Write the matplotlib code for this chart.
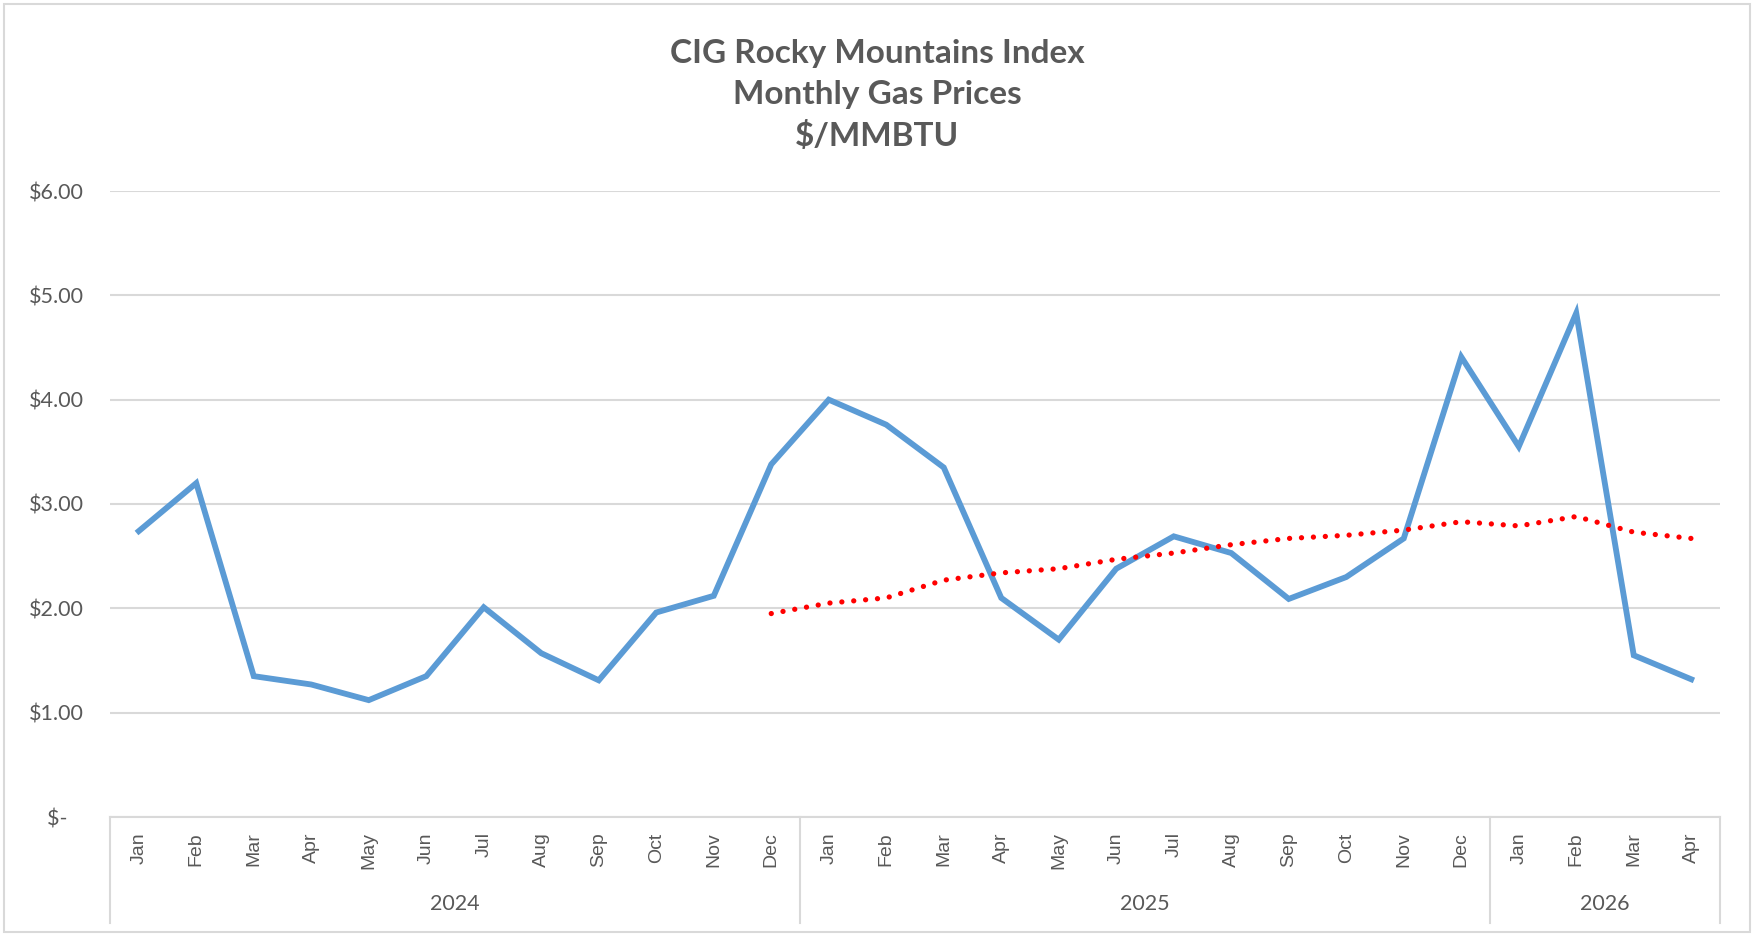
import matplotlib.pyplot as plt
from matplotlib.patches import Rectangle
import matplotlib.transforms as mtransforms
from matplotlib.ticker import FuncFormatter

months = ["Jan", "Feb", "Mar", "Apr", "May", "Jun", "Jul", "Aug", "Sep", "Oct", "Nov", "Dec"] * 2 + ["Jan", "Feb", "Mar", "Apr"]
years = ["2024", "2025", "2026"]
year_counts = [12, 12, 4]

# monthly index price, $/MMBTU
prices = [2.74, 3.20, 1.35, 1.27, 1.12, 1.35, 2.01, 1.57, 1.31, 1.96, 2.12, 3.38,
          4.00, 3.76, 3.35, 2.10, 1.70, 2.38, 2.69, 2.53, 2.09, 2.30, 2.67, 4.41,
          3.55, 4.83, 1.55, 1.32]

# 12 month moving average trendline (starts at Dec 2024)
avg_start = 11
moving_avg = [1.95, 2.05, 2.10, 2.27, 2.34, 2.38, 2.47, 2.53, 2.61, 2.67, 2.70, 2.75,
              2.83, 2.79, 2.88, 2.73, 2.67]

grey = "#595959"
gridc = "#D9D9D9"

fig = plt.figure(figsize=(17.54, 9.36), dpi=100)
ax = fig.add_axes([110/1754, 1 - 817/936, 1610/1754, 626/936])

x = list(range(len(prices)))
ax.plot(x, prices, color="#5B9BD5", lw=4.2, solid_joinstyle="miter", zorder=3)
ax.plot(list(range(avg_start, avg_start + len(moving_avg))), moving_avg, color="#FF0000",
        lw=3.8, linestyle=(0, (0.01, 2.25)), dash_capstyle="round", zorder=4)

ax.set_xlim(-0.5, len(prices) - 0.5)
ax.set_ylim(0, 6)
ax.set_yticks([0, 1, 2, 3, 4, 5, 6])
ax.yaxis.set_major_formatter(FuncFormatter(lambda v, p: "$-   " if v == 0 else f"${v:.2f}"))
ax.grid(axis="y", color=gridc, lw=1.5)
ax.set_axisbelow(True)
for s in ["top", "right", "left"]:
    ax.spines[s].set_visible(False)
ax.spines["bottom"].set_color(gridc)
ax.spines["bottom"].set_linewidth(1.5)
ax.tick_params(axis="y", length=0, pad=19, labelsize=15.5, labelcolor=grey)
for lab in ax.get_yticklabels():
    lab.set_fontfamily("Lato")
ax.set_xticks(x)
ax.set_xticklabels(months, rotation=90, fontsize=14, color=grey, fontfamily="Liberation Sans")
ax.tick_params(axis="x", length=0, pad=11)

# two level category axis
trans = mtransforms.blended_transform_factory(ax.transData, ax.transAxes)
edges = [-0.5]
for n in year_counts:
    edges.append(edges[-1] + n)
for e in edges:
    ax.plot([e, e], [0, -106/626], transform=trans, color=gridc, lw=1.5, clip_on=False)
for i, yr in enumerate(years):
    ax.text((edges[i] + edges[i+1]) / 2, -87/626, yr, transform=trans, ha="center", va="center",
            fontsize=15.5, color=grey, fontfamily="Lato")

fig.text(0.5, 1 - 95/936, "CIG Rocky Mountains Index\nMonthly Gas Prices\n$/MMBTU", ha="center", va="center",
         fontsize=24, fontweight="bold", color=grey, fontfamily="Lato", linespacing=1.5)

fig.patches.append(Rectangle((4/1754, 4/936), 1746/1754, 928/936, transform=fig.transFigure,
                             fill=False, edgecolor=gridc, lw=1.5))

fig.savefig("out.png", dpi=100)
